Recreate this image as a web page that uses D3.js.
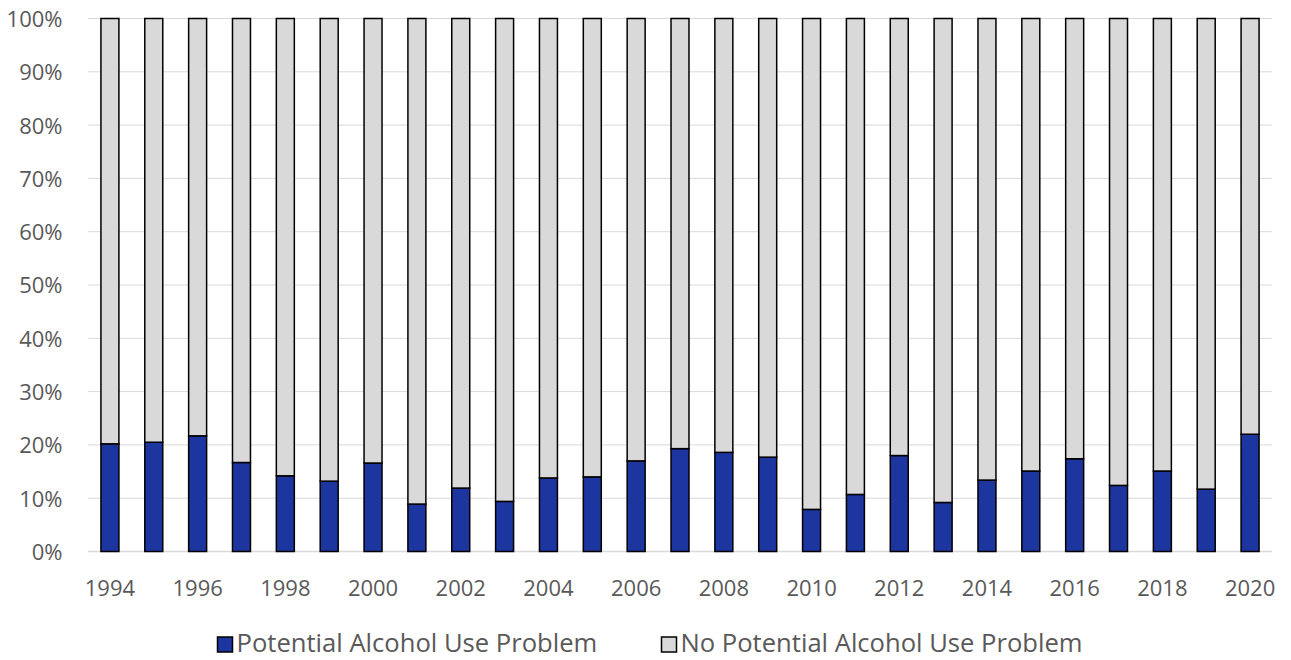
<!DOCTYPE html>
<html>
<head>
<meta charset="utf-8">
<script src="https://cdn.jsdelivr.net/npm/d3@7"></script>
<style>
  body { margin: 0; background: #fff; }
  text { font-family: "Open Sans", sans-serif; fill: #595959; }
</style>
</head>
<body>
<div id="chart"></div>
<script>

let years = [1994, 1995, 1996, 1997, 1998, 1999, 2000, 2001, 2002, 2003, 2004, 2005, 2006,
  2007, 2008, 2009, 2010, 2011, 2012, 2013, 2014, 2015, 2016, 2017, 2018, 2019, 2020];

// share with a potential alcohol use problem (%)
let problem = [20.2, 20.5, 21.7, 16.7, 14.2, 13.2, 16.6, 8.9, 11.9, 9.4, 13.8, 14.0, 17.0,
  19.3, 18.6, 17.7, 7.9, 10.7, 18.0, 9.2, 13.4, 15.1, 17.4, 12.4, 15.1, 11.7, 22.0];

let noProblem = problem.map(v => 100 - v);

let seriesNames = ["Potential Alcohol Use Problem", "No Potential Alcohol Use Problem"];
let seriesColors = ["#1d359f", "#d9d9d9"];
let yTicks = [0, 10, 20, 30, 40, 50, 60, 70, 80, 90, 100];

let w = 1291, h = 660;
let mLeft = 88, mRight = 1272, mTop = 18.5, mBottom = 551.5;

let svg = d3.select("#chart").append("svg")
  .attr("width", w)
  .attr("height", h);

let x = d3.scaleBand()
  .domain(years)
  .range([mLeft, mRight])
  .paddingInner(0.59)
  .paddingOuter(0.295);

let y = d3.scaleLinear()
  .domain([0, 100])
  .range([mBottom, mTop]);

// gridlines
svg.append("g")
  .selectAll("line")
  .data(yTicks)
  .join("line")
  .attr("x1", mLeft).attr("x2", mRight)
  .attr("y1", d => y(d)).attr("y2", d => y(d))
  .attr("stroke", "#d9d9d9")
  .attr("stroke-width", d => d == 0 ? 1.5 : 1);

// y labels
let yAxis = svg.append("g")
  .attr("transform", `translate(${mLeft - 25.5},0)`)
  .call(d3.axisLeft(y).tickValues(yTicks).tickFormat(d => d + "%").tickSize(0));
yAxis.select(".domain").remove();
yAxis.selectAll("text")
  .attr("x", 0)
  .attr("font-size", 22)
  .attr("font-family", "Open Sans")
  .attr("fill", "#595959")
  .attr("dy", "0.36em");

// x labels
let xAxis = svg.append("g")
  .attr("transform", `translate(0,${mBottom})`)
  .call(d3.axisBottom(x).tickValues(years.filter(d => d % 2 == 0)).tickSize(0));
xAxis.select(".domain").remove();
xAxis.selectAll("text")
  .attr("y", 44)
  .attr("dy", 0)
  .attr("font-size", 22)
  .attr("font-family", "Open Sans")
  .attr("fill", "#595959");

// stacked bars
let table = years.map((yr, i) => ({year: yr, a: problem[i], b: noProblem[i]}));
let stack = d3.stack().keys(["a", "b"])(table);

svg.append("g")
  .selectAll("g")
  .data(stack)
  .join("g")
  .attr("fill", (d, i) => seriesColors[i])
  .selectAll("rect")
  .data(d => d)
  .join("rect")
  .attr("x", d => x(d.data.year))
  .attr("width", x.bandwidth())
  .attr("y", d => y(d[1]))
  .attr("height", d => y(d[0]) - y(d[1]))
  .attr("stroke", "#000")
  .attr("stroke-width", 1.5);

// legend
let legendX = [217.5, 661.5];
let leg = svg.append("g")
  .selectAll("g")
  .data(seriesNames)
  .join("g")
  .attr("transform", (d, i) => `translate(${legendX[i]},637)`);

leg.append("rect")
  .attr("width", 15).attr("height", 15)
  .attr("fill", (d, i) => seriesColors[i])
  .attr("stroke", "#000")
  .attr("stroke-width", 1.5);

leg.append("text")
  .attr("x", 19)
  .attr("y", 15.3)
  .attr("font-size", 25.6)
  .text(d => d);

</script>
</body>
</html>
